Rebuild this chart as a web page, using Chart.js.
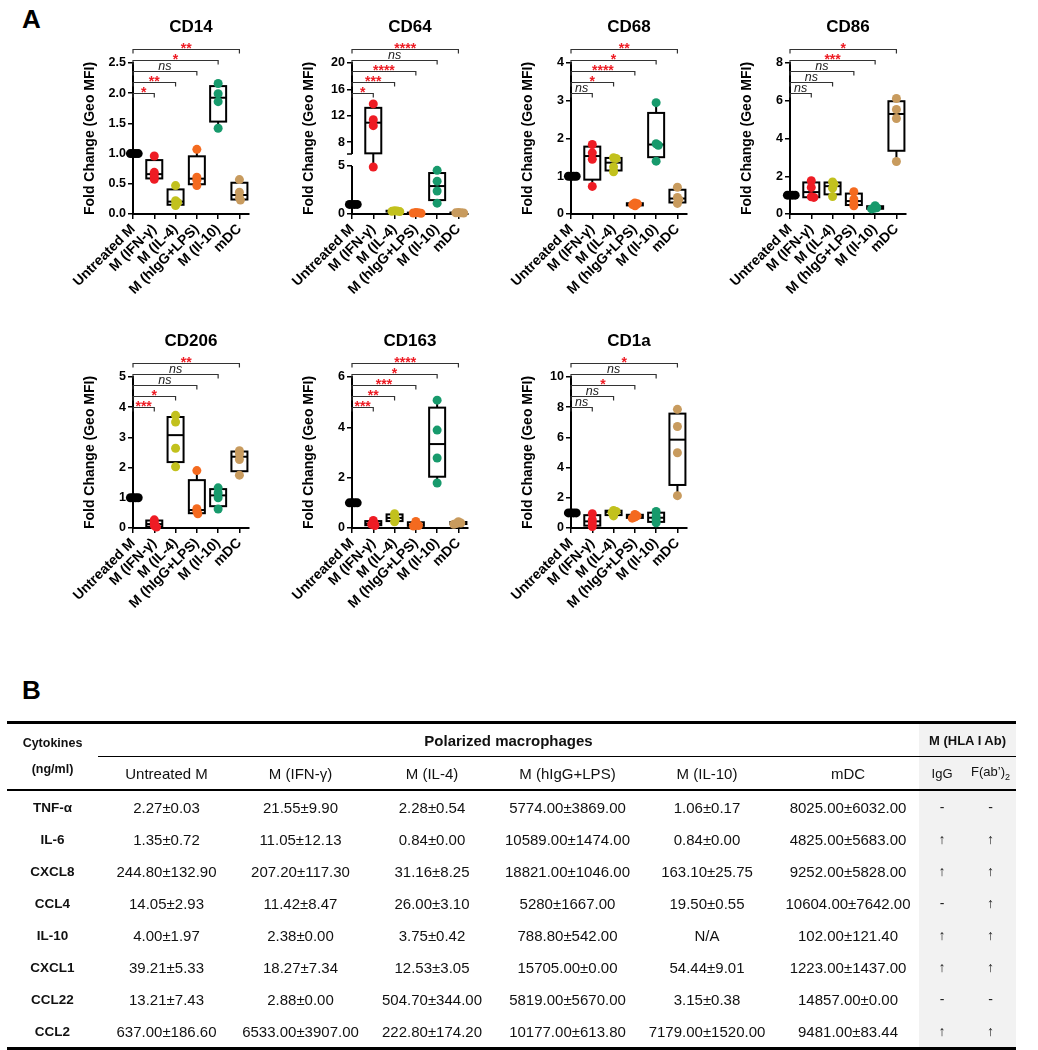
<!DOCTYPE html>
<html>
<head>
<meta charset="utf-8">
<script src="https://cdn.jsdelivr.net/npm/chart.js@4.4.1/dist/chart.umd.min.js"></script>
<style>
  body { margin: 0; background: #fff; }
  #page { position: relative; width: 1038px; height: 1050px; overflow: hidden; font-family: 'Liberation Sans', Arial, sans-serif; color: #111; }
  .panel-label { position: absolute; left: 22px; font-weight: bold; font-size: 26px; line-height: 26px; color: #000; }
  canvas { position: absolute; }
  table { position: absolute; left: 7px; top: 721px; width: 1009px; border-collapse: collapse; table-layout: fixed; font-size: 15px; will-change: transform; }
  td { padding: 0; height: 32px; text-align: center; vertical-align: middle; white-space: nowrap; }
  tr.top td { border-top: 3px solid #000; }
  tr.h1 td.span { border-bottom: 1.5px solid #000; }
  tr.h2 td, td.cyto { border-bottom: 2px solid #000; }
  tr.last td { border-bottom: 3px solid #000; }
  td.cyto { font-weight: bold; font-size: 12.5px; vertical-align: top; line-height: 26px; padding-top: 6px; }
  td.grp { font-weight: bold; font-size: 15px; }
  td.hla { font-weight: bold; font-size: 13px; }
  td.gray { background: #f2f2f2; }
  td.sm { font-size: 13px; }
  td.name { font-weight: bold; font-size: 13.5px; }
  td.arrow { font-size: 14px; color: #222; }
</style>
</head>
<body>
<div id="page">
  <div class="panel-label" style="top:6px">A</div>
  <canvas id="cd14" width="219" height="310" style="left:70px;top:0px"></canvas>
  <canvas id="cd64" width="219" height="310" style="left:289px;top:0px"></canvas>
  <canvas id="cd68" width="219" height="310" style="left:508px;top:0px"></canvas>
  <canvas id="cd86" width="219" height="310" style="left:727px;top:0px"></canvas>
  <canvas id="cd206" width="219" height="310" style="left:70px;top:314px"></canvas>
  <canvas id="cd163" width="219" height="310" style="left:289px;top:314px"></canvas>
  <canvas id="cd1a" width="219" height="310" style="left:508px;top:314px"></canvas>
  <div class="panel-label" style="top:677px">B</div>
  <table id="cytoTable"></table>
</div>
<script>
// groups on the x axis
const categories = ["Untreated M", "M (IFN-γ)", "M (IL-4)", "M (hIgG+LPS)", "M (Il-10)", "mDC"];
const groupColors = ["#000000", "#ee1c24", "#c2c11d", "#f46a1f", "#179a6c", "#c89b5e"];

// fold change values, one array of 4 donors per group
const cd14Points = [[1, 1, 1, 1], [0.96, 0.69, 0.63, 0.575], [0.47, 0.22, 0.19, 0.14], [1.07, 0.61, 0.56, 0.47], [2.16, 1.99, 1.86, 1.42], [0.57, 0.36, 0.27, 0.23]];
const cd64Points = [[1, 1, 1, 1], [13.8, 11.4, 10.5, 4.9], [0.35, 0.3, 0.28, 0.25], [0.15, 0.12, 0.1, 0.08], [4.55, 3.42, 2.4, 1.13], [0.15, 0.13, 0.12, 0.1]];
const cd68Points = [[1, 1, 1, 1], [1.84, 1.62, 1.45, 0.73], [1.49, 1.47, 1.25, 1.12], [0.29, 0.27, 0.25, 0.22], [2.95, 1.86, 1.82, 1.4], [0.71, 0.44, 0.38, 0.28]];
const cd86Points = [[1, 1, 1, 1], [1.76, 1.41, 0.91, 0.88], [1.7, 1.58, 1.37, 0.93], [1.18, 0.79, 0.58, 0.44], [0.44, 0.33, 0.3, 0.27], [6.12, 5.54, 5.06, 2.78]];
const cd206Points = [[1, 1, 1, 1], [0.27, 0.18, 0.08, 0.03], [3.73, 3.51, 2.64, 2.03], [1.9, 0.64, 0.55, 0.47], [1.33, 1.16, 1.0, 0.63], [2.56, 2.45, 2.27, 1.75]];
const cd163Points = [[1, 1, 1, 1], [0.3, 0.2, 0.15, 0.1], [0.57, 0.45, 0.35, 0.25], [0.26, 0.13, 0.1, 0.08], [5.08, 3.89, 2.78, 1.79], [0.25, 0.2, 0.18, 0.15]];
const cd1aPoints = [[1, 1, 1, 1], [0.95, 0.55, 0.33, 0.1], [1.16, 1.1, 1.02, 0.8], [0.9, 0.8, 0.72, 0.65], [1.09, 0.79, 0.57, 0.35], [7.86, 6.72, 4.98, 2.14]];

// y tick labels
const cd14Ticks = [0, 0.5, 1, 1.5, 2, 2.5];
const cd64Ticks = [0, 5, 8, 12, 16, 20];
const cd68Ticks = [0, 1, 2, 3, 4];
const cd86Ticks = [0, 2, 4, 6, 8];
const cd206Ticks = [0, 1, 2, 3, 4, 5];
const cd163Ticks = [0, 2, 4, 6];
const cd1aTicks = [0, 2, 4, 6, 8, 10];

// significance vs untreated (IFN-γ, IL-4, hIgG+LPS, Il-10, mDC)
const cd14Sig = ["*", "**", "ns", "*", "**"];
const cd64Sig = ["*", "***", "****", "ns", "****"];
const cd68Sig = ["ns", "*", "****", "*", "**"];
const cd86Sig = ["ns", "ns", "ns", "***", "*"];
const cd206Sig = ["***", "*", "ns", "ns", "**"];
const cd163Sig = ["***", "**", "***", "*", "****"];
const cd1aSig = ["ns", "ns", "*", "ns", "*"];

// table B
const cytokines = ["TNF-α", "IL-6", "CXCL8", "CCL4", "IL-10", "CXCL1", "CCL22", "CCL2"];
const tableColumns = ["Untreated M", "M (IFN-γ)", "M (IL-4)", "M (hIgG+LPS)", "M (IL-10)", "mDC"];
const untreatedVals = ["2.27±0.03", "1.35±0.72", "244.80±132.90", "14.05±2.93", "4.00±1.97", "39.21±5.33", "13.21±7.43", "637.00±186.60"];
const ifnVals = ["21.55±9.90", "11.05±12.13", "207.20±117.30", "11.42±8.47", "2.38±0.00", "18.27±7.34", "2.88±0.00", "6533.00±3907.00"];
const il4Vals = ["2.28±0.54", "0.84±0.00", "31.16±8.25", "26.00±3.10", "3.75±0.42", "12.53±3.05", "504.70±344.00", "222.80±174.20"];
const lpsVals = ["5774.00±3869.00", "10589.00±1474.00", "18821.00±1046.00", "5280±1667.00", "788.80±542.00", "15705.00±0.00", "5819.00±5670.00", "10177.00±613.80"];
const il10Vals = ["1.06±0.17", "0.84±0.00", "163.10±25.75", "19.50±0.55", "N/A", "54.44±9.01", "3.15±0.38", "7179.00±1520.00"];
const mdcVals = ["8025.00±6032.00", "4825.00±5683.00", "9252.00±5828.00", "10604.00±7642.00", "102.00±121.40", "1223.00±1437.00", "14857.00±0.00", "9481.00±83.44"];
const iggVals = ["-", "↑", "↑", "-", "↑", "↑", "-", "↑"];
const fabVals = ["-", "↑", "↑", "↑", "↑", "↑", "-", "↑"];

const FONT = "'Liberation Sans', Arial, sans-serif";
Chart.defaults.font.family = FONT;

const PLOT_H = 151;        // chart area height in px
const X_UNIT_PX = 21.3;    // px per category step
const BRACKET_OFFSETS = [29.5, 18.5, 8, -3, -14];

// y scale with an optional break (used for CD64)
class BrokenLinearScale extends Chart.LinearScale {
  getPixelForValue(value, index) {
    const b = this.options.brk;
    if (!b) return super.getPixelForValue(value, index);
    const lowTop = this.bottom - (this.bottom - this.top) * b.lowFrac;
    if (value <= b.low) return this.bottom - (value - this.min) / (b.low - this.min) * (this.bottom - lowTop);
    const upBottom = lowTop - b.gapPx;
    return upBottom - (value - b.high) / (this.max - b.high) * (upBottom - this.top);
  }
}
BrokenLinearScale.id = "brokenLinear";
BrokenLinearScale.defaults = {};
Chart.register(BrokenLinearScale);

const panels = [
  { id: "cd14", title: "CD14", points: cd14Points, ticks: cd14Ticks, sig: cd14Sig, dec: 1 },
  { id: "cd64", title: "CD64", points: cd64Points, ticks: cd64Ticks, sig: cd64Sig, dec: 0,
    brk: { low: 5, high: 6.2, lowFrac: 48 / 151, gapPx: 12 } },
  { id: "cd68", title: "CD68", points: cd68Points, ticks: cd68Ticks, sig: cd68Sig, dec: 0 },
  { id: "cd86", title: "CD86", points: cd86Points, ticks: cd86Ticks, sig: cd86Sig, dec: 0 },
  { id: "cd206", title: "CD206", points: cd206Points, ticks: cd206Ticks, sig: cd206Sig, dec: 0 },
  { id: "cd163", title: "CD163", points: cd163Points, ticks: cd163Ticks, sig: cd163Sig, dec: 0 },
  { id: "cd1a", title: "CD1a", points: cd1aPoints, ticks: cd1aTicks, sig: cd1aSig, dec: 0 }
];

// Prism style quartiles for box
function boxStats(vals) {
  const s = [...vals].sort((a, b) => a - b);
  const n = s.length;
  const q = p => {
    const pos = (n + 1) * p - 1;
    const lo = Math.max(0, Math.floor(pos));
    const hi = Math.min(n - 1, lo + 1);
    return s[lo] + (pos - lo) * (s[hi] - s[lo]);
  };
  return { min: s[0], q1: q(0.25), med: q(0.5), q3: q(0.75), max: s[n - 1] };
}

function approxPx(p, v) {
  const max = p.ticks[p.ticks.length - 1];
  const b = p.brk;
  if (!b) return PLOT_H - v / max * PLOT_H;
  const lowTop = PLOT_H - PLOT_H * b.lowFrac;
  if (v <= b.low) return PLOT_H - v / b.low * (PLOT_H - lowTop);
  const upB = lowTop - b.gapPx;
  return upB - (v - b.high) / (max - b.high) * upB;
}

// spread overlapping dots sideways
function swarm(p, vals) {
  const D = 2.6;
  const placed = [];
  const offs = vals.map(() => 0);
  const order = vals.map((v, i) => i).sort((a, b) => vals[b] - vals[a]);
  order.forEach(i => {
    const y = approxPx(p, vals[i]);
    for (let k = 0; k < 80; k++) {
      const dx = k === 0 ? 0 : (k % 2 ? 1 : -1) * Math.ceil(k / 2) * 0.2;
      if (placed.every(o => Math.hypot(o.x - dx, o.y - y) >= D)) {
        offs[i] = dx;
        placed.push({ x: dx, y });
        break;
      }
    }
  });
  return offs;
}

function panelPlugin(p) {
  return {
    id: "panelExtras",
    beforeDatasetsDraw(chart) {
      const { ctx } = chart;
      const x = chart.scales.x, y = chart.scales.y;
      ctx.save();
      ctx.strokeStyle = "#000";
      ctx.lineWidth = 2;
      p.points.forEach((vals, g) => {
        const s = boxStats(vals);
        if (s.max === s.min) return;
        const cx = x.getPixelForValue(g);
        const hw = 8;
        const py = v => y.getPixelForValue(v);
        ctx.beginPath();
        ctx.moveTo(cx, py(s.max));
        ctx.lineTo(cx, py(s.q3));
        ctx.moveTo(cx, py(s.q1));
        ctx.lineTo(cx, py(s.min));
        ctx.stroke();
        ctx.fillStyle = "#fff";
        ctx.fillRect(cx - hw, py(s.q3), 2 * hw, py(s.q1) - py(s.q3));
        ctx.strokeRect(cx - hw, py(s.q3), 2 * hw, py(s.q1) - py(s.q3));
        ctx.beginPath();
        ctx.moveTo(cx - hw, py(s.med));
        ctx.lineTo(cx + hw, py(s.med));
        ctx.stroke();
      });
      ctx.restore();
    },
    afterDraw(chart) {
      const { ctx, chartArea } = chart;
      const x = chart.scales.x, y = chart.scales.y;
      ctx.save();
      // broken y axis
      if (p.brk) {
        const ax = chartArea.left;
        const y0 = y.getPixelForValue(0), yLow = y.getPixelForValue(p.brk.low);
        const yHigh = y.getPixelForValue(p.brk.high), yTop = y.getPixelForValue(p.ticks[p.ticks.length - 1]);
        ctx.strokeStyle = "#000";
        ctx.lineWidth = 2;
        ctx.beginPath();
        ctx.moveTo(ax, y0 + 1);
        ctx.lineTo(ax, yLow);
        ctx.moveTo(ax, yHigh);
        ctx.lineTo(ax, yTop - 1);
        ctx.stroke();
        ctx.lineWidth = 1.5;
        ctx.beginPath();
        ctx.moveTo(ax - 5, yHigh);
        ctx.lineTo(ax, yHigh);
        ctx.stroke();
      }
      // significance brackets
      const x0 = x.getPixelForValue(0);
      p.sig.forEach((label, k) => {
        const yl = Math.round(chartArea.top + BRACKET_OFFSETS[k]) + 0.5;
        const x1 = x.getPixelForValue(k + 1);
        ctx.strokeStyle = "#333";
        ctx.lineWidth = 1.2;
        ctx.beginPath();
        ctx.moveTo(x0, yl + 4);
        ctx.lineTo(x0, yl);
        ctx.lineTo(x1, yl);
        ctx.lineTo(x1, yl + 4);
        ctx.stroke();
        ctx.textAlign = "center";
        ctx.textBaseline = "alphabetic";
        const mid = (x0 + x1) / 2;
        if (label === "ns") {
          ctx.fillStyle = "#222";
          ctx.font = "italic 12.5px " + FONT;
          ctx.fillText(label, mid, yl - 1.5);
        } else {
          ctx.fillStyle = "#ee1c24";
          ctx.font = "bold 14px " + FONT;
          ctx.fillText(label, mid, yl + 3);
        }
      });
      ctx.restore();
    }
  };
}

panels.forEach(p => {
  const yMax = p.ticks[p.ticks.length - 1];
  const datasets = p.points.map((vals, g) => {
    const offs = swarm(p, vals);
    return {
      data: vals.map((v, i) => ({ x: g + offs[i] / X_UNIT_PX, y: v })),
      backgroundColor: groupColors[g],
      borderColor: groupColors[g],
      borderWidth: 0,
      pointRadius: 4.5,
      pointHoverRadius: 4.5,
      clip: false
    };
  });
  new Chart(document.getElementById(p.id), {
    type: "scatter",
    data: { datasets },
    options: {
      responsive: false,
      animation: false,
      events: [],
      layout: { padding: { left: 0, right: 40, top: 0, bottom: 0 } },
      plugins: {
        legend: { display: false },
        tooltip: { enabled: false },
        title: {
          display: true, text: p.title, color: "#000", fullSize: false,
          font: { size: 17, weight: "bold", lineHeight: 1.2 },
          padding: { top: 17, bottom: 25.6 }
        }
      },
      scales: {
        x: {
          type: "linear", min: 0, max: 5.45,
          afterBuildTicks: s => { s.ticks = categories.map((c, i) => ({ value: i })); },
          afterFit: s => { s.height = 96; },
          ticks: {
            autoSkip: false, maxRotation: 45, minRotation: 45, padding: 2, color: "#000",
            font: { size: 14, weight: "bold" },
            callback: (v, i) => categories[i]
          },
          grid: { display: true, drawOnChartArea: false, drawTicks: true, tickLength: 5, color: "#000", lineWidth: 1.5 },
          border: { display: true, color: "#000", width: 2 }
        },
        y: {
          type: "brokenLinear", min: 0, max: yMax,
          brk: p.brk || null,
          afterBuildTicks: s => { s.ticks = p.ticks.map(v => ({ value: v })); },
          afterFit: s => { s.width = 63; },
          ticks: {
            padding: 2, color: "#000", font: { size: 12.5, weight: "bold" },
            callback: v => v.toFixed(p.dec)
          },
          title: {
            display: true, text: "Fold Change (Geo MFI)", color: "#000",
            font: { size: 14, weight: "bold", lineHeight: 1.2 },
            padding: { top: 12, bottom: 0 }
          },
          grid: { display: true, drawOnChartArea: false, drawTicks: true, tickLength: 5, color: "#000", lineWidth: 1.5 },
          border: { display: !p.brk, color: "#000", width: 2 }
        }
      }
    },
    plugins: [panelPlugin(p)]
  });
});

// build table B
const valueCols = [untreatedVals, ifnVals, il4Vals, lpsVals, il10Vals, mdcVals];
const table = document.getElementById("cytoTable");
const widths = [91, 137, 131, 132, 139, 140, 142, 46, 51];
let html = "<colgroup>" + widths.map(w => `<col style="width:${w}px">`).join("") + "</colgroup>";
html += `<tr class="top h1"><td class="cyto" rowspan="2">Cytokines<br>(ng/ml)</td>` +
        `<td class="grp span" colspan="6">Polarized macrophages</td>` +
        `<td class="hla span gray" colspan="2">M (HLA I Ab)</td></tr>`;
html += `<tr class="h2">` + tableColumns.map(c => `<td>${c}</td>`).join("") +
        `<td class="gray sm">IgG</td><td class="gray sm">F(ab’)<sub style="font-size:9px">2</sub></td></tr>`;
cytokines.forEach((name, r) => {
  const cls = r === cytokines.length - 1 ? ' class="last"' : "";
  html += `<tr${cls}><td class="name">${name}</td>` +
          valueCols.map(col => `<td>${col[r]}</td>`).join("") +
          `<td class="gray arrow">${iggVals[r]}</td><td class="gray arrow">${fabVals[r]}</td></tr>`;
});
table.innerHTML = html;
</script>
</body>
</html>
